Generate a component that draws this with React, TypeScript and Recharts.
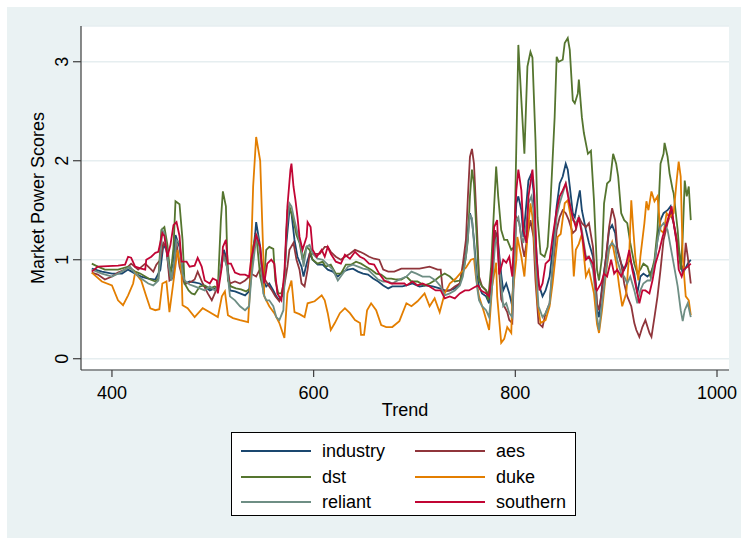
import { LineChart, Line, XAxis, YAxis, CartesianGrid, Label } from 'recharts'

// [trend, score] pairs
const industry: [number, number][] = [
  [380, 0.91], [390, 0.88], [400, 0.86], [410, 0.86], [416, 0.9], [423, 0.86], [429, 0.83], [436, 0.81], [443, 0.8], [448, 0.9],
  [451, 1.15], [454, 1.1], [457, 0.86], [461, 0.96], [463, 1.25], [467, 1.13], [470, 0.9], [472, 0.76], [477, 0.78], [482, 0.77],
  [487, 0.76], [492, 0.73], [497, 0.69], [502, 0.71], [505, 0.69], [509, 1.0], [511, 1.1], [514, 1.0], [517, 0.69], [522, 0.68],
  [527, 0.66], [532, 0.64], [536, 0.68], [538, 0.93], [542, 1.26], [543, 1.38], [547, 1.13], [550, 0.79], [553, 0.73], [556, 0.76],
  [560, 0.69], [563, 0.63], [566, 0.59], [570, 0.66], [573, 1.17], [576, 1.5], [578, 1.47], [581, 1.2], [584, 1.03], [588, 0.93],
  [590, 0.83], [593, 0.96], [596, 1.06], [599, 1.0], [604, 0.95], [609, 0.95], [614, 0.9], [619, 0.88], [624, 0.83], [629, 0.88],
  [634, 0.9], [639, 0.91], [644, 0.88], [649, 0.86], [654, 0.85], [659, 0.81], [664, 0.78], [669, 0.74], [674, 0.71], [678, 0.73],
  [688, 0.73], [692, 0.74], [698, 0.76], [705, 0.73], [712, 0.74], [718, 0.73], [725, 0.71], [730, 0.69], [735, 0.69], [740, 0.71],
  [745, 0.76], [748, 0.9], [751, 1.06], [753, 1.3], [755, 1.47], [757, 1.4], [759, 1.2], [762, 0.83], [764, 0.73], [767, 0.66],
  [771, 0.63], [774, 0.56], [777, 0.9], [780, 1.23], [782, 1.27], [786, 0.85], [788, 0.69], [791, 0.76], [794, 0.66], [797, 0.53],
  [799, 1.17], [801, 1.57], [803, 1.64], [806, 1.5], [808, 1.23], [811, 1.57], [813, 1.8], [816, 1.87], [818, 1.7], [820, 1.23],
  [823, 0.76], [827, 0.63], [830, 0.69], [834, 0.83], [837, 1.1], [841, 1.54], [844, 1.77], [847, 1.84], [850, 1.97], [852, 1.91],
  [854, 1.74], [857, 1.47], [859, 1.43], [862, 1.6], [864, 1.7], [866, 1.5], [870, 1.3], [873, 1.17], [877, 1.03], [880, 0.74],
  [881, 0.49], [883, 0.42], [886, 0.73], [890, 1.03], [893, 1.3], [896, 1.35], [899, 1.27], [901, 1.1], [905, 0.96], [908, 0.9],
  [911, 0.96], [914, 1.0], [918, 0.86], [921, 0.66], [924, 0.83], [927, 0.86], [931, 0.83], [934, 0.86], [938, 0.96], [941, 1.2],
  [944, 1.4], [947, 1.47], [951, 1.5], [954, 1.54], [957, 1.37], [961, 1.13], [964, 0.96], [966, 0.86], [968, 0.9], [971, 0.96],
  [974, 1.0],
]

const aes: [number, number][] = [
  [380, 0.87], [386, 0.85], [393, 0.8], [400, 0.83], [406, 0.87], [413, 0.9], [419, 0.96], [426, 0.9], [433, 0.96], [438, 0.91],
  [441, 0.88], [444, 0.95], [448, 1.0], [451, 1.17], [454, 1.13], [457, 0.79], [461, 0.82], [464, 1.17], [467, 0.93], [471, 0.78],
  [474, 0.76], [479, 0.78], [482, 0.8], [485, 0.88], [490, 0.76], [495, 0.66], [499, 0.59], [502, 0.66], [505, 0.73], [509, 0.96],
  [511, 1.06], [514, 0.93], [517, 0.76], [522, 0.78], [527, 0.76], [532, 0.79], [536, 0.83], [538, 0.86], [543, 0.83], [547, 0.91],
  [550, 0.83], [554, 0.76], [558, 0.7], [562, 0.63], [566, 0.58], [570, 0.68], [574, 0.93], [576, 1.1], [580, 1.17], [583, 1.0],
  [586, 0.9], [588, 0.76], [591, 0.73], [594, 0.9], [596, 1.06], [601, 1.06], [606, 1.06], [611, 1.13], [614, 1.13], [617, 1.08],
  [622, 1.03], [627, 1.0], [631, 1.03], [636, 1.06], [641, 1.1], [646, 1.08], [650, 1.06], [655, 1.03], [660, 1.01], [665, 1.0],
  [669, 0.9], [674, 0.88], [680, 0.88], [687, 0.91], [695, 0.91], [705, 0.91], [715, 0.93], [723, 0.9], [726, 0.9], [728, 0.69],
  [731, 0.68], [735, 0.69], [740, 0.73], [745, 0.76], [748, 0.96], [751, 1.2], [753, 1.64], [755, 2.04], [757, 2.12], [759, 1.97],
  [762, 1.3], [764, 0.83], [767, 0.73], [771, 0.69], [774, 0.63], [777, 0.9], [780, 1.3], [782, 1.17], [786, 0.6], [789, 0.53],
  [792, 0.47], [794, 0.39], [797, 0.36], [799, 0.96], [801, 1.43], [804, 1.37], [807, 1.13], [809, 1.03], [812, 1.23], [815, 1.4],
  [818, 1.23], [820, 0.79], [823, 0.36], [827, 0.32], [830, 0.46], [834, 0.56], [837, 0.9], [841, 1.3], [844, 1.43], [847, 1.5],
  [850, 1.47], [853, 1.4], [857, 1.27], [860, 1.3], [863, 1.43], [866, 1.37], [870, 1.33], [873, 1.37], [877, 1.13], [880, 0.7],
  [881, 0.56], [883, 0.49], [886, 0.69], [890, 1.03], [893, 1.33], [896, 1.52], [899, 1.4], [901, 1.13], [905, 0.96], [908, 0.76],
  [911, 0.63], [915, 0.53], [918, 0.36], [920, 0.29], [923, 0.22], [926, 0.32], [929, 0.39], [933, 0.26], [935, 0.22], [938, 0.42],
  [941, 0.63], [944, 0.9], [947, 1.2], [951, 1.37], [954, 1.47], [957, 1.37], [961, 1.17], [964, 0.96], [967, 0.9], [969, 1.17],
  [971, 1.03], [974, 0.76],
]

const dst: [number, number][] = [
  [380, 0.96], [386, 0.93], [393, 0.9], [406, 0.9], [416, 0.93], [423, 0.88], [428, 0.86], [433, 0.83], [438, 0.8], [443, 0.78],
  [446, 0.81], [449, 1.3], [452, 1.33], [455, 1.15], [458, 0.83], [461, 1.12], [463, 1.59], [467, 1.56], [470, 1.2], [472, 0.76],
  [476, 0.69], [479, 0.66], [482, 0.65], [487, 0.73], [492, 0.74], [497, 0.71], [502, 0.73], [505, 0.71], [508, 1.4], [510, 1.69],
  [513, 1.54], [515, 0.79], [518, 0.73], [523, 0.71], [528, 0.7], [533, 0.68], [537, 0.71], [540, 1.13], [543, 1.26], [547, 0.83],
  [550, 0.7], [553, 1.1], [556, 1.13], [560, 1.11], [562, 0.79], [565, 0.66], [568, 0.66], [571, 0.79], [574, 1.5], [576, 1.54],
  [580, 1.4], [583, 1.25], [586, 1.17], [589, 1.0], [593, 1.13], [596, 1.1], [599, 1.0], [604, 0.96], [609, 0.98], [612, 0.93],
  [617, 0.95], [622, 0.86], [627, 0.86], [632, 0.95], [637, 0.95], [642, 0.98], [647, 0.96], [652, 0.93], [657, 0.9], [662, 0.86],
  [667, 0.85], [672, 0.81], [677, 0.81], [682, 0.8], [687, 0.8], [692, 0.83], [697, 0.78], [703, 0.78], [710, 0.74], [715, 0.76],
  [720, 0.79], [725, 0.83], [730, 0.86], [735, 0.83], [740, 0.78], [745, 0.79], [748, 0.86], [751, 1.03], [753, 1.2], [755, 1.64],
  [757, 1.91], [759, 1.77], [762, 1.17], [764, 0.79], [767, 0.73], [771, 0.69], [773, 0.59], [776, 0.93], [779, 1.54], [781, 1.94],
  [783, 1.64], [786, 1.3], [789, 1.2], [792, 1.2], [796, 1.1], [799, 1.13], [803, 3.17], [806, 2.61], [809, 2.07], [812, 2.95],
  [815, 3.1], [817, 3.04], [820, 2.21], [822, 1.43], [825, 1.06], [829, 1.03], [832, 1.13], [835, 1.6], [839, 2.44], [841, 3.05],
  [843, 3.0], [847, 3.02], [849, 3.19], [852, 3.24], [854, 3.12], [857, 2.61], [859, 2.58], [862, 2.68], [863, 2.82], [866, 2.44],
  [868, 2.28], [872, 2.07], [875, 2.1], [878, 1.6], [881, 0.9], [883, 0.79], [886, 1.03], [888, 1.57], [891, 1.77], [894, 1.8],
  [897, 2.07], [900, 1.97], [902, 1.84], [905, 1.47], [908, 1.4], [911, 1.37], [914, 1.17], [918, 0.96], [921, 0.86], [924, 0.9],
  [927, 0.96], [931, 0.93], [934, 0.83], [938, 1.0], [941, 1.3], [944, 1.97], [947, 2.07], [948, 2.18], [951, 2.04], [953, 1.87],
  [956, 1.71], [957, 1.67], [961, 1.3], [964, 0.9], [966, 1.23], [968, 1.8], [970, 1.64], [972, 1.74], [974, 1.4],
]

const duke: [number, number][] = [
  [380, 0.87], [390, 0.78], [400, 0.74], [406, 0.59], [411, 0.54], [416, 0.64], [421, 0.76], [423, 0.87], [429, 0.79], [434, 0.63],
  [438, 0.51], [443, 0.49], [447, 0.5], [450, 0.76], [454, 0.78], [457, 0.47], [461, 0.78], [465, 1.1], [469, 0.87], [470, 0.54],
  [475, 0.51], [482, 0.42], [490, 0.51], [497, 0.47], [505, 0.42], [509, 0.63], [512, 0.68], [515, 0.44], [520, 0.41], [527, 0.39],
  [535, 0.37], [537, 0.73], [540, 1.74], [543, 2.24], [547, 2.0], [550, 1.07], [551, 0.63], [556, 0.53], [561, 0.46], [566, 0.36],
  [571, 0.21], [574, 0.66], [578, 0.79], [581, 0.47], [586, 0.45], [591, 0.42], [594, 0.56], [601, 0.58], [608, 0.64], [611, 0.59],
  [614, 0.46], [617, 0.29], [621, 0.36], [626, 0.46], [631, 0.51], [636, 0.46], [641, 0.39], [646, 0.36], [647, 0.24], [650, 0.24],
  [653, 0.49], [657, 0.56], [662, 0.49], [667, 0.34], [672, 0.32], [678, 0.32], [685, 0.38], [692, 0.56], [697, 0.53], [703, 0.58],
  [710, 0.66], [715, 0.53], [720, 0.61], [725, 0.47], [730, 0.66], [735, 0.76], [741, 0.81], [746, 0.87], [751, 0.92], [756, 1.0],
  [759, 1.01], [761, 0.82], [764, 0.63], [769, 0.47], [774, 0.29], [777, 0.73], [781, 0.97], [782, 0.63], [786, 0.16], [789, 0.2],
  [792, 0.32], [796, 0.26], [797, 0.63], [801, 1.0], [802, 1.23], [806, 1.03], [809, 0.83], [812, 1.23], [815, 1.57], [817, 1.43],
  [820, 0.97], [822, 0.56], [825, 0.36], [830, 0.39], [834, 0.53], [837, 0.76], [842, 1.23], [845, 1.26], [849, 1.57], [852, 1.6],
  [855, 1.43], [858, 0.83], [860, 1.1], [863, 1.16], [866, 1.26], [870, 0.83], [873, 0.9], [878, 0.66], [881, 0.35], [883, 0.26],
  [886, 0.49], [890, 0.87], [893, 1.1], [896, 1.18], [900, 0.97], [903, 0.73], [906, 0.53], [910, 0.66], [913, 1.07], [915, 1.6],
  [917, 1.3], [919, 1.03], [922, 0.79], [924, 1.03], [928, 1.37], [930, 1.59], [932, 1.5], [935, 1.69], [938, 1.59], [941, 1.64],
  [944, 1.3], [947, 1.27], [950, 1.47], [953, 1.43], [957, 1.47], [960, 1.8], [962, 1.99], [964, 1.84], [966, 1.03], [969, 0.63],
  [972, 0.59], [974, 0.44],
]

const reliant: [number, number][] = [
  [380, 0.9], [390, 0.86], [400, 0.83], [406, 0.86], [413, 0.9], [418, 0.93], [423, 0.86], [429, 0.81], [436, 0.76], [441, 0.74],
  [446, 0.79], [450, 1.3], [452, 1.27], [456, 0.96], [459, 0.79], [462, 1.0], [464, 1.2], [467, 1.17], [470, 0.86], [472, 0.79],
  [477, 0.75], [482, 0.73], [487, 0.71], [492, 0.69], [497, 0.73], [502, 0.69], [505, 0.73], [509, 0.96], [511, 1.03], [514, 0.93],
  [517, 0.63], [522, 0.59], [527, 0.53], [532, 0.49], [536, 0.53], [538, 0.79], [542, 1.13], [544, 1.26], [547, 1.06], [550, 0.66],
  [553, 0.59], [556, 0.59], [560, 0.53], [563, 0.42], [566, 0.39], [570, 0.49], [573, 1.3], [576, 1.57], [578, 1.54], [581, 1.4],
  [584, 1.27], [588, 1.1], [590, 0.93], [593, 1.13], [596, 1.15], [599, 1.06], [604, 1.01], [609, 1.0], [614, 0.95], [619, 0.9],
  [624, 0.79], [629, 0.86], [634, 0.93], [639, 0.95], [644, 0.93], [649, 0.91], [654, 0.9], [659, 0.85], [664, 0.8], [669, 0.78],
  [674, 0.78], [678, 0.76], [685, 0.8], [692, 0.83], [697, 0.88], [702, 0.86], [708, 0.83], [715, 0.83], [721, 0.79], [726, 0.73],
  [730, 0.64], [735, 0.66], [740, 0.69], [745, 0.74], [748, 0.83], [751, 1.03], [753, 1.23], [755, 1.45], [757, 1.42], [759, 1.17],
  [762, 0.73], [764, 0.59], [767, 0.53], [771, 0.49], [774, 0.42], [777, 0.73], [780, 1.17], [782, 1.23], [786, 0.75], [788, 0.53],
  [791, 0.56], [794, 0.46], [797, 0.42], [799, 1.03], [801, 1.4], [803, 1.43], [806, 1.23], [808, 1.17], [811, 1.37], [813, 1.57],
  [816, 1.64], [818, 1.5], [820, 1.03], [823, 0.53], [827, 0.42], [830, 0.46], [834, 0.56], [837, 0.96], [841, 1.43], [844, 1.57],
  [847, 1.67], [850, 1.77], [853, 1.64], [857, 1.4], [860, 1.37], [863, 1.43], [866, 1.3], [870, 1.03], [873, 1.03], [877, 0.9],
  [880, 0.6], [881, 0.42], [883, 0.29], [886, 0.56], [890, 0.9], [893, 1.13], [896, 1.17], [899, 1.13], [901, 1.0], [905, 0.86],
  [908, 0.83], [911, 0.76], [914, 0.83], [918, 0.69], [921, 0.56], [924, 0.69], [927, 0.76], [931, 0.79], [934, 0.79], [938, 0.96],
  [941, 1.2], [944, 1.33], [947, 1.37], [951, 1.3], [954, 1.13], [957, 0.96], [961, 0.73], [964, 0.49], [966, 0.38], [968, 0.49],
  [971, 0.56], [974, 0.42],
]

const southern: [number, number][] = [
  [380, 0.88], [386, 0.93], [406, 0.94], [413, 0.95], [416, 1.03], [419, 1.02], [423, 0.93], [429, 0.91], [433, 0.9], [434, 1.0],
  [439, 1.03], [443, 1.07], [446, 1.08], [450, 1.27], [452, 1.24], [455, 1.03], [458, 1.15], [461, 1.35], [464, 1.38], [467, 1.24],
  [469, 0.98], [474, 0.98], [477, 0.93], [482, 0.94], [485, 1.02], [489, 0.93], [492, 0.79], [497, 0.76], [500, 0.81], [504, 0.79],
  [505, 0.66], [509, 0.93], [510, 1.13], [513, 1.2], [515, 0.96], [518, 0.96], [522, 0.87], [527, 0.85], [532, 0.85], [536, 0.83],
  [538, 1.0], [542, 1.2], [543, 1.25], [547, 1.13], [548, 1.0], [551, 0.76], [554, 0.96], [558, 1.0], [561, 0.96], [564, 0.66],
  [568, 0.59], [571, 0.87], [574, 1.54], [577, 1.91], [578, 1.97], [580, 1.74], [582, 1.6], [584, 1.43], [586, 1.23], [589, 1.1],
  [593, 1.23], [594, 1.38], [597, 1.33], [599, 1.1], [603, 1.03], [608, 1.1], [611, 1.03], [614, 1.13], [617, 1.06], [622, 0.98],
  [627, 0.96], [631, 1.05], [636, 1.01], [641, 1.08], [646, 1.03], [650, 1.01], [655, 0.96], [660, 0.95], [665, 0.86], [670, 0.79],
  [677, 0.76], [683, 0.76], [690, 0.76], [692, 0.74], [698, 0.78], [703, 0.74], [708, 0.76], [715, 0.73], [721, 0.69], [726, 0.69],
  [730, 0.61], [735, 0.63], [740, 0.61], [745, 0.66], [750, 0.69], [754, 0.69], [759, 0.72], [763, 0.74], [766, 0.69], [771, 0.66],
  [774, 0.63], [777, 0.9], [779, 1.33], [782, 1.4], [784, 0.85], [788, 1.0], [791, 0.97], [794, 1.03], [797, 0.83], [799, 1.3],
  [801, 1.7], [803, 1.91], [806, 1.7], [808, 1.3], [811, 1.17], [813, 1.64], [817, 1.91], [819, 1.64], [821, 1.03], [824, 0.69],
  [827, 0.76], [830, 0.96], [834, 1.0], [837, 1.23], [841, 1.5], [844, 1.64], [847, 1.7], [850, 1.77], [853, 1.6], [857, 1.43],
  [860, 1.33], [863, 1.43], [866, 1.26], [870, 1.0], [873, 1.03], [877, 0.96], [880, 0.7], [881, 0.69], [885, 0.76], [888, 0.86],
  [891, 0.83], [895, 1.0], [898, 0.86], [901, 0.9], [905, 0.83], [910, 0.96], [913, 1.1], [916, 0.9], [919, 0.76], [923, 0.56],
  [926, 0.69], [929, 0.69], [933, 0.66], [936, 0.79], [939, 0.96], [943, 1.1], [946, 1.23], [949, 1.33], [953, 1.47], [955, 1.54],
  [957, 1.37], [960, 1.17], [962, 0.9], [965, 0.83], [967, 0.9], [971, 0.93], [974, 0.96],
]

const xTicks = [400, 600, 800, 1000]
const yTicks = [0, 1, 2, 3]

// Stata s2color palette
const SERIES = [
  { name: 'industry', points: industry, color: '#1a476f' },
  { name: 'aes', points: aes, color: '#90353b' },
  { name: 'dst', points: dst, color: '#55752f' },
  { name: 'duke', points: duke, color: '#e37e00' },
  { name: 'reliant', points: reliant, color: '#6e8e84' },
  { name: 'southern', points: southern, color: '#c10534' },
]

const FONT = '"Liberation Sans", Arial, sans-serif'
const AXIS = '#3c3c3c'

function YTick(props: { y?: number; payload?: { value: number } }) {
  const { y = 0, payload } = props
  return (
    <text
      x={62}
      y={y}
      transform={`rotate(-90 62 ${y})`}
      textAnchor="middle"
      dominantBaseline="central"
      fontSize={18}
      fontFamily={FONT}
      fill="#000"
    >
      {payload?.value}
    </text>
  )
}

function XTick(props: { x?: number; payload?: { value: number } }) {
  const { x = 0, payload } = props
  return (
    <text x={x} y={399} textAnchor="middle" fontSize={18} fontFamily={FONT} fill="#000">
      {payload?.value}
    </text>
  )
}

export default function App() {
  return (
    <div style={{ position: 'absolute', left: 0, top: 0, width: 741, height: 539, background: '#fff', fontFamily: FONT }}>
      <div style={{ position: 'absolute', left: 7, top: 7, width: 734, height: 531, background: '#eaf2f3' }} />
      <div style={{ position: 'absolute', left: 0, top: 0 }}>
        <LineChart width={741} height={539} margin={{ top: 26, right: 12, left: 0, bottom: 129 }}>
          <CartesianGrid fill="#fff" vertical={false} stroke="#e6eef0" strokeWidth={1.5} />
          <XAxis
            type="number"
            dataKey="x"
            domain={[369.3, 1011.9]}
            ticks={xTicks}
            allowDataOverflow
            height={40}
            tickSize={7}
            tick={<XTick />}
            axisLine={{ stroke: AXIS, strokeWidth: 1.2 }}
            tickLine={{ stroke: AXIS, strokeWidth: 1.2 }}
          >
            <Label
              content={() => (
                <text x={405} y={416} textAnchor="middle" fontSize={18} fontFamily={FONT} fill="#000">
                  Trend
                </text>
              )}
            />
          </XAxis>
          <YAxis
            type="number"
            dataKey="y"
            domain={[-0.114, 3.361]}
            ticks={yTicks}
            allowDataOverflow
            width={81}
            tickSize={8}
            tick={<YTick />}
            axisLine={{ stroke: AXIS, strokeWidth: 1.2 }}
            tickLine={{ stroke: AXIS, strokeWidth: 1.2 }}
          >
            <Label
              content={() => (
                <text
                  x={38}
                  y={198}
                  transform="rotate(-90 38 198)"
                  textAnchor="middle"
                  dominantBaseline="central"
                  fontSize={18}
                  fontFamily={FONT}
                  fill="#000"
                >
                  Market Power Scores
                </text>
              )}
            />
          </YAxis>
          {SERIES.map((s) => (
            <Line
              key={s.name}
              data={s.points.map(([x, y]) => ({ x, y }))}
              dataKey="y"
              type="linear"
              stroke={s.color}
              strokeWidth={1.8}
              dot={false}
              activeDot={false}
              isAnimationActive={false}
            />
          ))}
        </LineChart>
      </div>
      {/* legend box */}
      <div
        style={{
          position: 'absolute',
          left: 231,
          top: 432,
          width: 345,
          height: 84,
          background: '#fff',
          border: '1px solid #000',
          boxSizing: 'border-box',
        }}
      >
        {SERIES.map((s, i) => {
          const col = i % 2
          const row = Math.floor(i / 2)
          return (
            <div
              key={s.name}
              style={{
                position: 'absolute',
                left: col === 0 ? 9 : 183,
                top: 7 + row * 25.5,
                height: 22,
                display: 'flex',
                alignItems: 'center',
                fontSize: 18,
                color: '#000',
              }}
            >
              <svg width={70} height={4} style={{ display: 'block' }}>
                <line x1={0} y1={2} x2={70} y2={2} stroke={s.color} strokeWidth={2} />
              </svg>
              <span style={{ marginLeft: 11, lineHeight: '22px' }}>{s.name}</span>
            </div>
          )
        })}
      </div>
    </div>
  )
}
